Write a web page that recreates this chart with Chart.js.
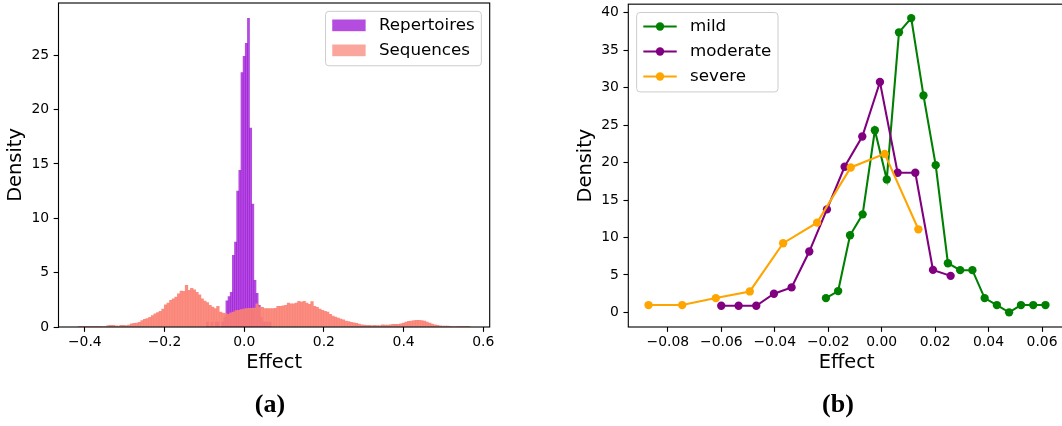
<!DOCTYPE html>
<html><head><meta charset="utf-8">
<script src="https://cdn.jsdelivr.net/npm/chart.js@4.4.0/dist/chart.umd.min.js"></script>
<style>
html,body{margin:0;padding:0;overflow:hidden;background:#fff;width:1062px;height:426px;position:relative}
#ca{position:absolute;left:0;top:0}
#cb{position:absolute;left:531px;top:0}
.cap{position:absolute;top:389px;font-family:"Liberation Serif","Times New Roman",serif;font-weight:bold;font-size:26px;line-height:30px;transform:translateX(-50%);color:#000}
</style></head><body>
<canvas id="ca" width="531" height="426"></canvas>
<canvas id="cb" width="545" height="426"></canvas>
<div class="cap" style="left:270px">(a)</div>
<div class="cap" style="left:838px">(b)</div>
<script>
// ---------- Panel (a): histograms ----------
const seqLabel = 'Sequences';
const repLabel = 'Repertoires';
const seqBinStart = -0.417, seqBinWidth = 0.00656;
const seqDensity = [
 0.02,0.03,0.02,0.03,0.02,0.03,0.04,0.03,0.04,0.05,0.05,
 0.12,0.15,0.15,0.10,0.08,0.15,0.15,0.14,0.18,
 0.30,0.34,0.36,0.43,0.58,0.70,0.77,0.90,1.04,1.20,
 1.32,1.44,1.65,2.05,2.20,2.45,2.60,2.76,3.06,3.30,
 3.28,3.83,3.37,3.55,3.43,3.20,2.97,2.60,2.39,2.24,
 2.00,1.84,1.69,1.90,1.38,1.29,1.23,1.16,1.30,1.38,
 1.50,1.53,1.60,1.65,1.70,1.72,1.72,1.75,2.14,1.84,
 1.80,1.69,1.69,1.69,1.70,1.72,1.90,1.90,1.95,2.00,
 2.20,2.14,2.14,2.20,2.36,2.30,2.36,2.20,2.08,2.33,
 1.90,1.80,1.65,1.53,1.45,1.38,1.16,1.00,0.92,0.83,
 0.72,0.65,0.55,0.50,0.43,0.38,0.33,0.26,0.21,0.17,
 0.15,0.15,0.14,0.15,0.13,0.14,0.20,0.18,0.18,0.20,
 0.25,0.24,0.25,0.30,0.37,0.46,0.52,0.55,0.60,0.61,
 0.62,0.58,0.55,0.46,0.37,0.28,0.20,0.15,0.10,0.09,
 0.09,0.08,0.07,0.05,0.05,0.04,0.04,0.03,0.03,0.02
];
const repBinStart = -0.0946, repBinWidth = 0.0054;
const repDensity = [
 0.45,0,0.45,0,0.45,0.45,0,0.45,0.9,2.4,
 2.8,3.2,6.6,7.8,12.5,14.4,23.4,24.9,26.1,28.4,
 18.3,11.3,4.3,3.1,2.0,0.9,0.45,0.45,0.45,0.45
];
const xTicksA = [-0.4,-0.2,0.0,0.2,0.4,0.6];
const yTicksA = [0,5,10,15,20,25];
const xRangeA = [-0.466, 0.616];
const yRangeA = [0, 29.8];

// ---------- Panel (b): lines ----------
const mildX = [-0.02085,-0.01628,-0.01183,-0.00712,-0.00254,0.00191,0.00648,0.01106,0.01564,0.02022,0.02479,0.02937,0.03395,0.03853,0.04311,0.04768,0.05213,0.05671,0.06129];
const mildY = [1.90,2.84,10.29,13.09,24.32,17.75,37.4,39.3,28.97,19.66,6.56,5.63,5.63,1.90,0.97,0.0,0.97,0.97,0.97];
const moderateX = [-0.06002,-0.05353,-0.04692,-0.04031,-0.03370,-0.02708,-0.02047,-0.01386,-0.00725,-0.00064,0.00598,0.01259,0.01920,0.02581];
const moderateY = [0.88,0.88,0.88,2.48,3.33,8.12,13.75,19.44,23.48,30.76,18.64,18.64,5.67,4.87];
const severeX = [-0.08723,-0.07464,-0.06205,-0.04934,-0.03687,-0.02416,-0.01157,0.00114,0.01373];
const severeY = [0.97,0.97,1.90,2.79,9.23,11.98,19.35,21.17,11.09];
const xTicksB = [-0.08,-0.06,-0.04,-0.02,0.00,0.02,0.04,0.06];
const yTicksB = [0,5,10,15,20,25,30,35,40];
const xRangeB = [-0.0948, 0.0686];
const yRangeB = [-1.96, 41.16];

// ---------- styling ----------
const FAM = '"DejaVu Sans", Verdana, sans-serif';
const tickFont = {family: FAM, size: 13.9};
const titleFont = {family: FAM, size: 19.4};
const legendFontSize = 16.7;

function fmt(v, d){ return (v < 0 ? '\u2212' : '') + Math.abs(v).toFixed(d); }

const framePlugin = {
  id: 'frame',
  afterDatasetsDraw(chart){
    const {ctx, chartArea: a} = chart;
    ctx.save();
    ctx.strokeStyle = '#000';
    ctx.lineWidth = 1.11;
    ctx.strokeRect(a.left, a.top, a.right - a.left, a.bottom - a.top);
    ctx.restore();
  }
};

function roundRect(ctx, x, y, w, h, r){
  ctx.beginPath();
  ctx.moveTo(x + r, y);
  ctx.lineTo(x + w - r, y); ctx.arcTo(x + w, y, x + w, y + r, r);
  ctx.lineTo(x + w, y + h - r); ctx.arcTo(x + w, y + h, x + w - r, y + h, r);
  ctx.lineTo(x + r, y + h); ctx.arcTo(x, y + h, x, y + h - r, r);
  ctx.lineTo(x, y + r); ctx.arcTo(x, y, x + r, y, r);
  ctx.closePath();
}

const legendPlugin = {
  id: 'mplLegend',
  afterDraw(chart, args, opts){
    const {ctx, chartArea: a} = chart;
    const fs = legendFontSize;
    const items = chart.data.datasets.map(d => ({label: d.label, color: d.legendColor || d.borderColor}));
    ctx.save();
    ctx.font = fs + 'px ' + FAM;
    const tw = Math.max(...items.map(i => ctx.measureText(i.label).width));
    const pad = 0.4 * fs, hl = 2.0 * fs, htp = 0.8 * fs, axpad = 0.5 * fs;
    const w = pad * 2 + hl + htp + tw;
    const rowH = 25;
    const h = 14 + rowH * (items.length - 1) + 15.7 - 0.3;
    const top = a.top + axpad;
    const left = opts.side === 'right' ? a.right - axpad - w : a.left + axpad;
    roundRect(ctx, left, top, w, h, 0.2 * fs);
    ctx.fillStyle = 'rgba(255,255,255,0.8)';
    ctx.fill();
    ctx.strokeStyle = '#cccccc';
    ctx.lineWidth = 1;
    ctx.stroke();
    items.forEach((it, k) => {
      const cy = top + 14 + k * rowH;
      const hx = left + pad;
      if (opts.kind === 'patch') {
        ctx.fillStyle = it.color;
        ctx.fillRect(hx, cy - 0.35 * fs, hl, 0.7 * fs);
      } else {
        ctx.strokeStyle = it.color;
        ctx.lineWidth = 2.08;
        ctx.beginPath(); ctx.moveTo(hx, cy); ctx.lineTo(hx + hl, cy); ctx.stroke();
        ctx.fillStyle = it.color;
        ctx.beginPath(); ctx.arc(hx + hl / 2, cy, 4.17, 0, Math.PI * 2); ctx.fill();
      }
      ctx.fillStyle = '#000';
      ctx.textBaseline = 'middle';
      ctx.textAlign = 'left';
      ctx.fillText(it.label, hx + hl + htp, cy);
    });
    ctx.restore();
  }
};

function gridOpts(){
  return {display: true, offset: false, drawOnChartArea: false, drawTicks: true, tickLength: 4.86, tickWidth: 1.11, tickColor: '#000'};
}
function xScale(range, ticks, dec, fitH){
  return {
    type: 'linear', position: 'bottom', offset: false, min: range[0], max: range[1],
    afterBuildTicks: s => { s.ticks = ticks.map(v => ({value: v})); },
    afterFit: s => { s.height = fitH; s.paddingLeft = 0; s.paddingRight = 0; },
    ticks: {font: tickFont, color: '#000', padding: 2, maxRotation: 0, autoSkip: false, callback: v => fmt(v, dec)},
    grid: gridOpts(), border: {display: false},
    title: {display: true, text: 'Effect', font: titleFont, color: '#000', padding: {top: 0, bottom: 51.6}}
  };
}
function yScale(range, ticks, fitW, titlePad){
  return {
    type: 'linear', position: 'left', min: range[0], max: range[1],
    afterBuildTicks: s => { s.ticks = ticks.map(v => ({value: v})); },
    afterFit: s => { s.width = fitW; s.paddingTop = 0; s.paddingBottom = 0; },
    ticks: {font: tickFont, color: '#000', padding: 4.5, autoSkip: false, callback: v => String(v)},
    grid: gridOpts(), border: {display: false},
    title: {display: true, text: 'Density', font: titleFont, color: '#000', padding: {top: titlePad, bottom: 0}}
  };
}

const seqData = seqDensity.map((v, i) => ({x: seqBinStart + (i + 0.5) * seqBinWidth, y: v}));
const repData = repDensity.map((v, i) => ({x: repBinStart + (i + 0.5) * repBinWidth, y: v}));

new Chart(document.getElementById('ca'), {
  type: 'bar',
  data: {datasets: [
    {label: repLabel, data: repData, xAxisID: 'x2', backgroundColor: 'rgba(148,0,211,0.7)', legendColor: 'rgba(148,0,211,0.7)', borderWidth: 0, barPercentage: 1, categoryPercentage: 1, grouped: false, order: 1},
    {label: seqLabel, data: seqData, xAxisID: 'x', backgroundColor: 'rgba(250,128,114,0.9)', legendColor: 'rgba(250,128,114,0.7)', borderWidth: 0, barPercentage: 1, categoryPercentage: 1, grouped: false, order: 0}
  ]},
  options: {
    responsive: false, animation: false, events: [],
    layout: {padding: {left: 0, right: 41.3, top: 3, bottom: 0}},
    scales: {
      x: xScale(xRangeA, xTicksA, 1, 99),
      x2: {type: 'linear', display: false, offset: false, grid: {offset: false}, min: xRangeA[0], max: xRangeA[1], afterBuildTicks: s => { s.ticks = xTicksA.map(v => ({value: v})); }},
      y: yScale(yRangeA, yTicksA, 58.5, 4.6)
    },
    plugins: {legend: {display: false}, tooltip: {enabled: false}, mplLegend: {kind: 'patch', side: 'right'}}
  },
  plugins: [framePlugin, legendPlugin]
});

function lineSet(label, xs, ys, color, order){
  return {label, data: xs.map((x, i) => ({x, y: ys[i]})), borderColor: color, backgroundColor: color,
    borderWidth: 2.08, pointRadius: 4.17, pointBorderWidth: 0, pointHoverRadius: 4.17, tension: 0, order};
}

new Chart(document.getElementById('cb'), {
  type: 'line',
  data: {datasets: [
    lineSet('mild', mildX, mildY, 'rgb(0,128,0)', 2),
    lineSet('moderate', moderateX, moderateY, 'rgb(128,0,128)', 1),
    lineSet('severe', severeX, severeY, 'rgb(255,165,0)', 0)
  ]},
  options: {
    responsive: false, animation: false, events: [],
    layout: {padding: {left: 0, right: 11, top: 3, bottom: 0}},
    scales: {
      x: xScale(xRangeB, xTicksB, 2, 99),
      y: yScale(yRangeB, yTicksB, 97.3, 43)
    },
    plugins: {legend: {display: false}, tooltip: {enabled: false}, mplLegend: {kind: 'line', side: 'left'}}
  },
  plugins: [framePlugin, legendPlugin]
});
</script>
</body></html>
